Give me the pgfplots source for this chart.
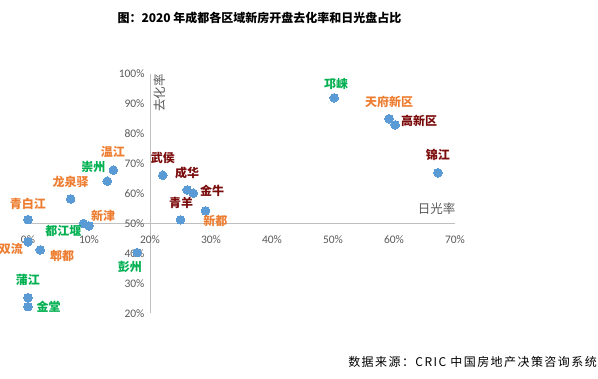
\documentclass[border=0pt]{standalone}
\usepackage{pgfplots}
\pgfplotsset{compat=1.18}
\usepackage{pgfplotstable}
\usepackage{fontspec}
\setmainfont{Noto Sans CJK SC}
\newfontfamily\carlito{Carlito}
\newfontfamily\srcfont[LetterSpace=12]{Noto Sans CJK SC}
\definecolor{ptblue}{HTML}{5B9BD5}
\definecolor{lblred}{HTML}{7B0C0C}
\definecolor{lblorange}{HTML}{ED7D31}
\definecolor{lblgreen}{HTML}{00B050}
\definecolor{axgray}{HTML}{BFBFBF}
\definecolor{txtgray}{HTML}{595959}

\pgfplotstableread{
x y name
0.140 0.678 温江
0.130 0.641 崇州
0.070 0.582 龙泉驿
0.000 0.513 青白江
0.221 0.661 武侯
0.261 0.612 成华
0.271 0.601 金牛
0.250 0.512 青羊
0.291 0.542 新都
0.091 0.500 新津
0.100 0.492 都江堰
0.000 0.439 双流
0.020 0.412 郫都
0.179 0.403 彭州
0.000 0.253 蒲江
0.000 0.223 金堂
0.502 0.919 邛崃
0.592 0.849 天府新区
0.602 0.829 高新区
0.672 0.669 锦江
}\points

\pgfplotstableread{
x y name
0.139 0.738 温江
0.070 0.638 龙泉驿
0.000 0.565 青白江
0.307 0.508 新都
0.123 0.525 新津
-0.028 0.415 双流
0.056 0.392 郫都
0.592 0.905 天府新区
}\orangelabels

\pgfplotstableread{
x y name
0.107 0.688 崇州
0.058 0.475 都江堰
0.167 0.355 彭州
0.000 0.312 蒲江
0.034 0.222 金堂
0.505 0.965 邛崃
}\greenlabels

\pgfplotstableread{
x y name
0.221 0.718 武侯
0.261 0.668 成华
0.302 0.608 金牛
0.251 0.568 青羊
0.641 0.842 高新区
0.672 0.728 锦江
}\redlabels

\pgfplotsset{
  lbl/.style={only marks, mark=*, mark size=0pt, mark options={draw=none,fill=none},
    nodes near coords, point meta=explicit symbolic,
    every node near coord/.style={font=\bfseries\fontsize{12}{14}\selectfont, text=#1, anchor=center, inner sep=0pt}},
}

\begin{document}
\begin{tikzpicture}
\useasboundingbox (0,0) rectangle (598pt,379pt);
\begin{axis}[
  at={(28pt,65.5pt)}, anchor=south west,
  scale only axis, width=427pt, height=240pt,
  xmin=0, xmax=0.7, ymin=0.2, ymax=1.0,
  axis x line=bottom, axis y line=left,
  axis x line shift=-90pt, axis y line shift=-122pt,
  axis line style={draw=axgray, line width=0.9pt, -},
  xtick={0,0.1,...,0.71}, ytick={0.2,0.3,...,1.01},
  xticklabels={0\%,10\%,20\%,30\%,40\%,50\%,60\%,70\%},
  yticklabels={20\%,30\%,40\%,50\%,60\%,70\%,80\%,90\%,100\%},
  major tick length=0pt,
  ticklabel style={font=\carlito\fontsize{11.5}{13}\selectfont, text=txtgray},
  xticklabel style={yshift=-9pt},
  yticklabel style={xshift=-2pt},
  clip=false,
]
\addplot[only marks, color=ptblue, mark=*, mark size=4.3pt, mark options={fill=ptblue, draw=ptblue, line width=0pt}] table[x=x,y=y]{\points};
\addplot[lbl=lblorange] table[x=x,y=y,meta=name]{\orangelabels};
\addplot[lbl=lblgreen] table[x=x,y=y,meta=name]{\greenlabels};
\addplot[lbl=lblred] table[x=x,y=y,meta=name]{\redlabels};
\node[font=\fontsize{12.5}{14}\selectfont, text=txtgray, anchor=center] at (axis cs:0.670,0.548) {日光率};
\node[font=\fontsize{12.5}{14}\selectfont, text=txtgray, rotate=90, anchor=center] at (axis cs:0.216,0.935) {去化率};
\end{axis}
\node[font=\bfseries\fontsize{12}{14}\selectfont] at (259.5pt,361pt) {图：2020 年成都各区域新房开盘去化率和日光盘占比};
\node[font=\srcfont\fontsize{12}{14}\selectfont, anchor=east, inner sep=0pt] at (597pt,17pt) {数据来源：CRIC 中国房地产决策咨询系统};
\end{tikzpicture}
\end{document}
